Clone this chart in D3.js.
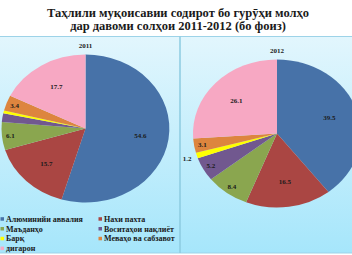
<!DOCTYPE html>
<html>
<head>
<meta charset="utf-8">
<script src="https://cdn.jsdelivr.net/npm/d3@7"></script>
<style>
  html, body { margin: 0; padding: 0; background: #fff; }
  svg { display: block; }
  text { font-family: "Liberation Serif", "DejaVu Serif", serif; font-weight: bold; fill: #1a1a1a; }
</style>
</head>
<body>
<div id="chart"></div>
<script>
// chart data
const categories = ['Алюминийи аввалия', 'Нахи пахта', 'Маъданҳо', 'Воситаҳои нақлиёт', 'Барқ', 'Меваҳо ва сабзавот', 'дигарон'];
const colors = ['#4772a8', '#aa4643', '#8aa64f', '#71588f', '#ffff00', '#dd853e', '#f7a8c3'];
const years = ['2011', '2012'];
const values2011 = [54.6, 15.7, 6.1, 1.9, 0.6, 3.4, 17.7];
const values2012 = [39.5, 16.5, 8.4, 5.2, 1.2, 3.1, 26.1];
const titleLines = ['Таҳлили муқоисавии  содирот бо гурӯҳи молҳо', 'дар давоми солҳои 2011-2012  (бо фоиз)'];

const W = 352, H = 255;
const svg = d3.select('#chart').append('svg')
  .attr('width', W).attr('height', H);

const defs = svg.append('defs');
const grad = defs.append('linearGradient').attr('id', 'bg')
  .attr('x1', 0).attr('y1', 0).attr('x2', 0).attr('y2', 1);
grad.append('stop').attr('offset', '0%').attr('stop-color', '#e2f6fd');
grad.append('stop').attr('offset', '100%').attr('stop-color', '#a6e6fb');

// panel background
const boxTop = 36.5, boxBottom = 253;
svg.append('rect')
  .attr('x', -1).attr('y', boxTop)
  .attr('width', W + 2).attr('height', boxBottom - boxTop)
  .attr('fill', 'url(#bg)')
  .attr('stroke', '#9dd3e8').attr('stroke-width', 1);

// title
svg.selectAll('.title')
  .data(titleLines)
  .enter().append('text')
  .attr('class', 'title')
  .attr('x', 178)
  .attr('y', (d, i) => 17 + i * 13)
  .attr('text-anchor', 'middle')
  .style('font-size', '12.5px')
  .text(d => d);

const pie = d3.pie().value(d => d).sort(null);
const rx = 84, ry = 74;
const arc = d3.arc().innerRadius(0).outerRadius(1);

const panels = [
  { year: years[0], values: values2011, cx: 85.5, cy: 128.5, yearY: 48 },
  { year: years[1], values: values2012, cx: 277, cy: 133.5, yearY: 53 }
];

// label distance depends on slice size
function labelK(v) {
  if (v >= 12) return 0.66;
  if (v >= 2.5) return 0.9;
  return 1.12;
}

panels.forEach(p => {
  const g = svg.append('g')
    .attr('transform', `translate(${p.cx},${p.cy})`);

  const slices = g.append('g').attr('transform', `scale(${rx},${ry})`);
  slices.selectAll('path')
    .data(pie(p.values))
    .enter().append('path')
    .attr('d', arc)
    .attr('fill', (d, i) => colors[i]);

  g.selectAll('.lbl')
    .data(pie(p.values))
    .enter().append('text')
    .attr('class', 'lbl')
    .attr('x', d => {
      const a = (d.startAngle + d.endAngle) / 2;
      return Math.sin(a) * rx * labelK(d.data);
    })
    .attr('y', d => {
      const a = (d.startAngle + d.endAngle) / 2;
      return -Math.cos(a) * ry * labelK(d.data);
    })
    .attr('dy', '0.35em')
    .attr('text-anchor', 'middle')
    .style('font-size', '7px')
    .text(d => d3.format('.1f')(d.data));

  svg.append('text')
    .attr('x', p.cx)
    .attr('y', p.yearY)
    .attr('text-anchor', 'middle')
    .style('font-size', '7px')
    .text(p.year);
});

// divider between the two pies
svg.append('line')
  .attr('x1', 180).attr('x2', 180)
  .attr('y1', boxTop).attr('y2', boxBottom)
  .attr('stroke', '#8ccbe0').attr('stroke-width', 1.5);

// legend
const legend = svg.selectAll('.legend')
  .data(categories)
  .enter().append('g')
  .attr('class', 'legend')
  .attr('transform', (d, i) => `translate(${(i % 2) * 98},${219 + Math.floor(i / 2) * 9.8})`);

legend.append('rect')
  .attr('x', 0.5).attr('y', -1.8)
  .attr('width', 3.5).attr('height', 3.5)
  .attr('fill', (d, i) => colors[i]);

legend.append('text')
  .attr('x', 6)
  .attr('dy', '0.35em')
  .style('font-size', '8px')
  .text(d => d);
</script>
</body>
</html>
